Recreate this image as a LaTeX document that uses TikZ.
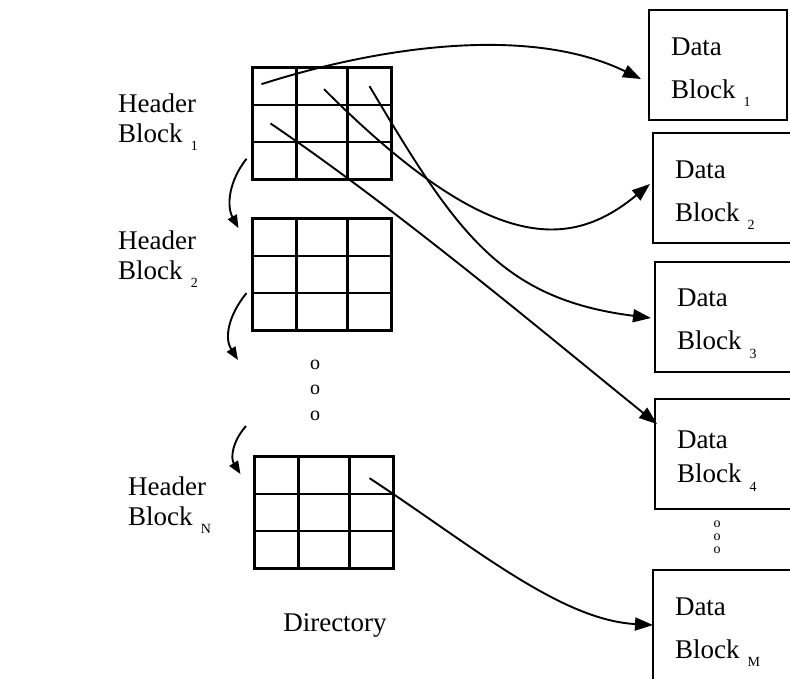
\documentclass[tikz,border=0pt]{standalone}
\usepackage{fontspec}
\setmainfont{Liberation Serif}
\usetikzlibrary{arrows.meta,matrix}
\newcommand{\lowidx}[1]{\hspace{0.3em}\raisebox{-0.33em}{\fontsize{14}{14}\selectfont #1}}

\begin{document}
\begin{tikzpicture}[x=1pt,y=-1pt,
  hlabel/.style={anchor=base west,align=left,inner sep=0pt,font=\fontsize{27}{30}\selectfont},
  datablock/.style={draw,line width=2.4pt,anchor=north west,outer sep=0pt,minimum width=138pt,minimum height=110pt,text width=94pt,inner xsep=22pt,align=left,font=\fontsize{27}{43}\selectfont,execute at begin node={\rule{0pt}{32pt}}},
  dirgrid/.style={matrix of nodes,nodes in empty cells,anchor=north west,inner sep=0pt,column sep=-2.6pt,row sep=-2.6pt,
    nodes={draw,line width=2.6pt,inner sep=0pt,outer sep=0pt,minimum height=37.3pt},
    column 1/.style={nodes={minimum width=44pt}},
    column 2/.style={nodes={minimum width=51pt}},
    column 3/.style={nodes={minimum width=44pt}}},
  link/.style={-{Triangle[length=18pt,width=13pt]},line width=1.9pt},
  nextarrow/.style={-{Triangle[length=13pt,width=10pt]},line width=1.9pt}
]
\useasboundingbox (0,0) rectangle (790,678);
\clip (0,0) rectangle (790,678);

% directory
\matrix (g1) [dirgrid] at (251,66) {& & \\ & & \\ & & \\};
\matrix (g2) [dirgrid] at (251,217) {& & \\ & & \\ & & \\};
\matrix (gn) [dirgrid] at (253,455) {& & \\ & & \\ & & \\};
\node[hlabel] (h1) at (118,142) {Header\\Block\lowidx{1}};
\node[hlabel] (h2) at (118,279) {Header\\Block\lowidx{2}};
\node[hlabel] (hn) at (128,525) {Header\\Block\lowidx{N}};
\node[align=center,inner sep=0pt,font=\fontsize{20}{25.5}\selectfont] (vdots) at (315,390) {o\\o\\o};
\node[anchor=base,inner sep=0pt,font=\fontsize{27}{30}\selectfont] (dirname) at (335,631) {Directory};
\coordinate (c2end) at (238,360);
\coordinate (c3start) at (246,426);

% data blocks
\node[datablock] (b1) at (649,10) {Data\\Block\lowidx{1}};
\node[datablock] (b2) at (653,133) {Data\\Block\lowidx{2}};
\node[datablock] (b3) at (655,262) {Data\\Block\lowidx{3}};
\node[datablock,font=\fontsize{27}{34}\selectfont,execute at begin node={\rule{0pt}{22pt}}] (b4) at (655,399) {Data\\Block\lowidx{4}};
\node[datablock] (bm) at (653,570) {Data\\Block\lowidx{M}};
\node[align=center,inner sep=0pt,font=\fontsize{14}{13}\selectfont] (bdots) at (717,537) {o\\o\\o};

% header chain
\draw[nextarrow] ([shift={(-6,-2)}]g1-3-1.west) .. controls +(-18,23) and +(-12,-22) .. ([shift={(-14,-9)}]g2-1-1.west);
\draw[nextarrow] ([shift={(-6,0)}]g2-3-1.north west) .. controls +(-18,22) and +(-14,-22) .. (c2end);
\draw[nextarrow] (c3start) .. controls +(-14,16) and +(-10,-16) .. ([shift={(-14,-1)}]gn-1-1.west);

% pointers
\draw[link] ([shift={(-13,-2)}]g1-1-1.center) .. controls +(119,-38) and +(-111,-54) .. ([shift={(-8,14)}]b1.west);
\draw[link] ([shift={(2,3)}]g1-1-2.center) .. controls +(166,166) and +(-80,66) .. ([shift={(-3,-4)}]b2.west);
\draw[link] (g1-1-3.center) .. controls +(86,145) and +(-151,-19) .. ([shift={(-4,1)}]b3.west);
\draw[link] ([shift={(-4,0)}]g1-2-1.center) .. controls +(130,88) and +(-97,-78) .. ([shift={(2,-30)}]b4.west);
\draw[link] ([shift={(-2,3)}]gn-1-3.center) .. controls +(102,67) and +(-93,-5) .. (bm.west);
\end{tikzpicture}
\end{document}
